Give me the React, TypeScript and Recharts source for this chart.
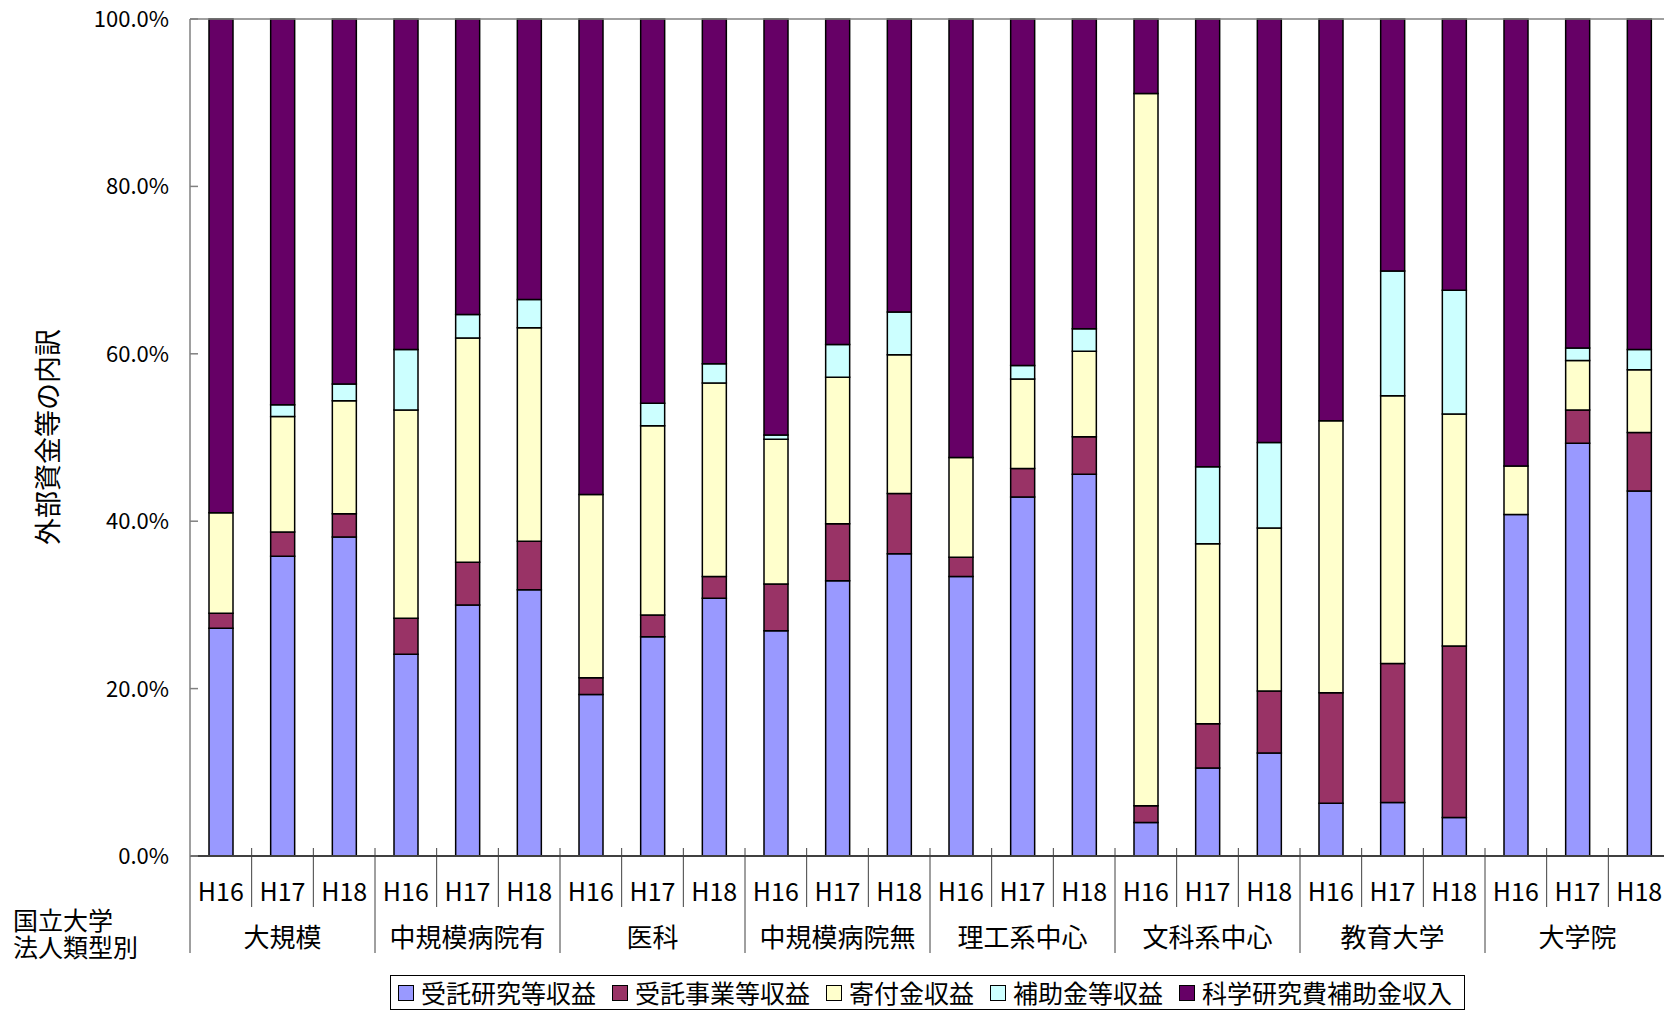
import React from 'react';
import { BarChart, Bar, XAxis, YAxis, ReferenceLine } from 'recharts';

const groups = ['大規模', '中規模病院有', '医科', '中規模病院無', '理工系中心', '文科系中心', '教育大学', '大学院'];
const years = ['H16', 'H17', 'H18'];
const yTicks = [0, 20, 40, 60, 80, 100];

const seriesNames = ['受託研究等収益', '受託事業等収益', '寄付金収益', '補助金等収益', '科学研究費補助金収入'];

// values in %, one entry per bar (group x year)
const itakuKenkyu = [27.2, 35.8, 38.1, 24.1, 30.0, 31.8, 19.3, 26.2, 30.8, 26.9, 32.9, 36.1, 33.4, 42.9, 45.6, 4.0, 10.5, 12.3, 6.3, 6.4, 4.6, 40.8, 49.3, 43.6];
const itakuJigyo = [1.8, 2.9, 2.8, 4.3, 5.1, 5.8, 2.0, 2.6, 2.6, 5.6, 6.8, 7.2, 2.3, 3.4, 4.5, 2.0, 5.3, 7.4, 13.2, 16.6, 20.5, 0, 4.0, 7.0];
const kifukin = [12.0, 13.8, 13.5, 24.9, 26.8, 25.5, 21.9, 22.6, 23.1, 17.3, 17.5, 16.6, 11.9, 10.7, 10.2, 85.1, 21.5, 19.5, 32.5, 32.0, 27.7, 5.8, 5.9, 7.5];
const hojokin = [0, 1.4, 2.0, 7.2, 2.8, 3.4, 0, 2.7, 2.3, 0.5, 3.9, 5.1, 0, 1.6, 2.7, 0, 9.2, 10.2, 0, 14.9, 14.8, 0, 1.5, 2.4];
const kakenhi = [59.0, 46.1, 43.6, 39.5, 35.3, 33.5, 56.8, 45.9, 41.2, 49.7, 38.9, 35.0, 52.4, 41.4, 37.0, 8.9, 53.5, 50.6, 48.0, 30.1, 32.4, 53.4, 39.3, 39.5];

const seriesValues = [itakuKenkyu, itakuJigyo, kifukin, hojokin, kakenhi];
const COLORS = ['#9999FF', '#993366', '#FFFFCC', '#CCFFFF', '#660066'];

const data = groups.flatMap((g, gi) =>
  years.map((y, yi) => {
    const i = gi * 3 + yi;
    const row: Record<string, string | number> = { id: `${g}-${y}`, group: g, year: y };
    seriesValues.forEach((vals, si) => {
      row[`s${si}`] = vals[i];
    });
    return row;
  })
);

const CHART_W = 1670;
const CHART_H = 1011;
const Y_AXIS_W = 190;
const X_AXIS_H = 155;
const BAND = (CHART_W - Y_AXIS_W) / data.length;
const FONT = '"Noto Sans CJK JP", "Noto Sans", sans-serif';

const CategoryTick = (props: any) => {
  const { x, y, payload } = props;
  const idx = payload.index ?? props.index;
  const row = data[idx];
  const half = payload.offset > 0 ? payload.offset : BAND / 2;
  const pos = idx % 3;
  return (
    <g>
      <text x={x} y={y + 45} textAnchor="middle" fontSize={25} fill="#000" fontFamily={FONT}>
        {row.year}
      </text>
      {pos === 1 && (
        <text x={x} y={y + 91} textAnchor="middle" fontSize={26} fill="#000" fontFamily={FONT}>
          {row.group}
        </text>
      )}
      {idx === 0 && (
        <line x1={x - half} x2={x - half} y1={y} y2={y + 97} stroke="#404040" strokeWidth={1} />
      )}
      <line
        x1={x + half}
        x2={x + half}
        y1={y - 8}
        y2={pos === 2 ? y + 97 : y + 51}
        stroke="#404040"
        strokeWidth={1}
      />
    </g>
  );
};

const PctTick = (props: any) => {
  const { x, y, payload } = props;
  return (
    <g>
      <line x1={x} x2={x + 8} y1={y} y2={y} stroke="#808080" strokeWidth={1.5} />
      <text x={x - 21} y={y} dy="0.36em" textAnchor="end" fontSize={22} fill="#000" fontFamily={FONT}>
        {`${Number(payload.value).toFixed(1)}%`}
      </text>
    </g>
  );
};

export default function App() {
  return (
    <div
      style={{
        position: 'absolute',
        left: 0,
        top: 0,
        width: 1664,
        height: 1011,
        overflow: 'hidden',
        background: '#fff',
        fontFamily: FONT,
        color: '#000',
      }}
    >
      <BarChart
        width={CHART_W}
        height={CHART_H}
        data={data}
        margin={{ top: 19, right: 0, left: 0, bottom: 0 }}
        barSize={24}
      >
        <XAxis
          dataKey="id"
          height={X_AXIS_H}
          interval={0}
          tickLine={false}
          tickSize={0}
          tickMargin={0}
          axisLine={{ stroke: '#404040', strokeWidth: 2 }}
          tick={<CategoryTick />}
        />
        <YAxis
          width={Y_AXIS_W}
          domain={[0, 100]}
          ticks={yTicks}
          tickLine={false}
          tickSize={0}
          tickMargin={0}
          axisLine={{ stroke: '#808080', strokeWidth: 1.5 }}
          tick={<PctTick />}
        />
        <ReferenceLine y={100} stroke="#808080" strokeWidth={1.5} />
        {seriesNames.map((name, si) => (
          <Bar
            key={name}
            dataKey={`s${si}`}
            name={name}
            stackId="a"
            fill={COLORS[si]}
            stroke="#000"
            strokeWidth={1.5}
            isAnimationActive={false}
          />
        ))}
      </BarChart>

      <div
        style={{
          position: 'absolute',
          left: 46,
          top: 437,
          transform: 'translate(-50%, -50%) rotate(-90deg)',
          fontSize: 27,
          whiteSpace: 'nowrap',
          lineHeight: 1,
        }}
      >
        外部資金等の内訳
      </div>

      <div style={{ position: 'absolute', left: 13, top: 907, fontSize: 25, lineHeight: 1 }}>国立大学</div>
      <div style={{ position: 'absolute', left: 13, top: 934, fontSize: 25, lineHeight: 1 }}>法人類型別</div>

      <div
        style={{
          position: 'absolute',
          left: 390,
          top: 975,
          width: 1075,
          height: 35,
          boxSizing: 'border-box',
          border: '1px solid #000',
          display: 'flex',
          alignItems: 'center',
          padding: '0 7px',
          gap: 16,
          background: '#fff',
        }}
      >
        {seriesNames.map((name, si) => (
          <div key={name} style={{ display: 'flex', alignItems: 'center', whiteSpace: 'nowrap' }}>
            <span
              style={{
                display: 'inline-block',
                width: 16,
                height: 16,
                boxSizing: 'border-box',
                border: '1.5px solid #000',
                background: COLORS[si],
                marginRight: 7,
              }}
            />
            <span style={{ fontSize: 25, lineHeight: 1 }}>{name}</span>
          </div>
        ))}
      </div>
    </div>
  );
}
